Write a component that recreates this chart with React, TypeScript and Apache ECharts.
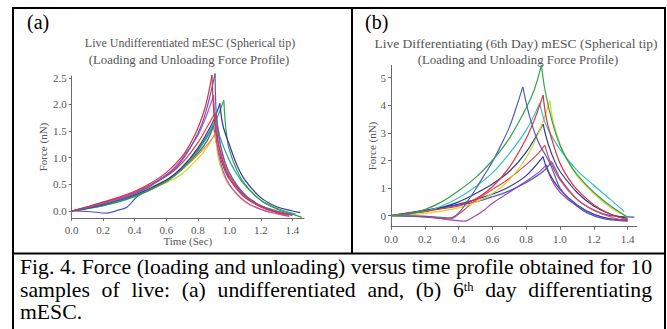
import React, { useEffect, useRef } from "react";
import * as echarts from "echarts";

type Pt = [number, number];

// ---------- Panel (a): undifferentiated mESC ----------
const aRed1Load: Pt[] = [[0,0],[0.1,0.08],[0.2,0.17],[0.3,0.26],[0.4,0.37],[0.5,0.52],[0.6,0.72],[0.7,1.02],[0.75,1.25],[0.8,1.55],[0.85,1.98],[0.89,2.55]];
const aRed1Unload: Pt[] = [[0.89,2.55],[0.91,1.6],[0.95,1.0],[1.0,0.62],[1.05,0.4],[1.1,0.25],[1.2,0.08],[1.3,-0.02],[1.4,-0.08]];
const aBlue1Load: Pt[] = [[0,0],[0.2,0.13],[0.4,0.32],[0.6,0.66],[0.7,0.95],[0.8,1.45],[0.85,1.85],[0.91,2.58]];
const aBlue1Unload: Pt[] = [[0.91,2.58],[0.92,1.7],[0.95,1.15],[1.0,0.72],[1.1,0.3],[1.2,0.1],[1.3,0.0],[1.4,-0.07]];
const aMagentaLoad: Pt[] = [[0,0],[0.2,0.15],[0.4,0.34],[0.6,0.68],[0.7,0.98],[0.8,1.42],[0.85,1.75],[0.9,2.17]];
const aMagentaUnload: Pt[] = [[0.9,2.17],[0.92,1.3],[0.95,0.85],[1.0,0.5],[1.1,0.18],[1.2,0.03],[1.3,-0.05],[1.38,-0.1]];
const aGreenLoad: Pt[] = [[0,0],[0.2,0.1],[0.4,0.27],[0.6,0.55],[0.7,0.78],[0.8,1.12],[0.9,1.6],[0.965,2.08]];
const aGreenUnload: Pt[] = [[0.965,2.08],[0.98,1.5],[1.0,1.15],[1.05,0.75],[1.1,0.5],[1.2,0.2],[1.3,0.04],[1.4,-0.06],[1.46,-0.12]];
const aNavyLoad: Pt[] = [[0,0],[0.2,0.12],[0.4,0.3],[0.6,0.58],[0.7,0.82],[0.8,1.18],[0.9,1.7],[0.94,2.02]];
const aNavyUnload: Pt[] = [[0.94,2.02],[0.96,1.6],[1.0,1.25],[1.05,0.85],[1.1,0.58],[1.2,0.25],[1.3,0.08],[1.4,0.0],[1.45,-0.03]];
const aRed2Load: Pt[] = [[0,0],[0.2,0.16],[0.4,0.35],[0.6,0.65],[0.7,0.9],[0.8,1.28],[0.86,1.58],[0.91,1.85]];
const aRed2Unload: Pt[] = [[0.91,1.85],[0.93,1.3],[0.96,0.95],[1.0,0.65],[1.1,0.28],[1.2,0.08],[1.3,-0.03],[1.38,-0.08]];
const aTealLoad: Pt[] = [[0,0],[0.2,0.1],[0.4,0.28],[0.6,0.56],[0.7,0.8],[0.8,1.15],[0.86,1.42],[0.92,1.75]];
const aTealUnload: Pt[] = [[0.92,1.75],[0.94,1.4],[1.0,0.95],[1.05,0.68],[1.1,0.48],[1.2,0.2],[1.3,0.05],[1.42,-0.06]];
const aBlue2Load: Pt[] = [[0,0],[0.1,-0.01],[0.22,-0.04],[0.3,0.02],[0.35,0.07],[0.42,0.28],[0.5,0.4],[0.6,0.56],[0.7,0.78],[0.8,1.08],[0.86,1.32],[0.9,1.6]];
const aBlue2Unload: Pt[] = [[0.9,1.6],[0.92,1.25],[0.96,0.85],[1.0,0.6],[1.1,0.27],[1.2,0.08],[1.3,-0.02],[1.4,-0.08]];
const aYellowLoad: Pt[] = [[0,0],[0.2,0.12],[0.4,0.3],[0.6,0.53],[0.7,0.7],[0.8,0.98],[0.86,1.2],[0.91,1.47]];
const aYellowUnload: Pt[] = [[0.91,1.47],[0.93,1.0],[0.96,0.7],[1.0,0.48],[1.1,0.17],[1.2,0.03],[1.3,-0.05],[1.38,-0.09]];
const aOrangeLoad: Pt[] = [[0,0],[0.2,0.15],[0.4,0.33],[0.6,0.58],[0.7,0.78],[0.8,1.05],[0.87,1.28],[0.93,1.52]];
const aOrangeUnload: Pt[] = [[0.93,1.52],[0.95,1.15],[1.0,0.7],[1.1,0.3],[1.2,0.1],[1.3,0.0],[1.4,-0.07]];

// ---------- Panel (b): 6th day differentiating mESC ----------
const bGreenLoad: Pt[] = [[0,0],[0.1,0.05],[0.2,0.22],[0.3,0.5],[0.4,0.9],[0.5,1.38],[0.6,2.0],[0.7,2.8],[0.8,3.9],[0.85,4.6],[0.89,5.46]];
const bGreenUnload: Pt[] = [[0.89,5.46],[0.91,4.6],[0.95,3.5],[1.0,2.55],[1.05,1.95],[1.1,1.5],[1.2,0.85],[1.3,0.35],[1.4,-0.05]];
const bSlateLoad: Pt[] = [[0,0],[0.2,-0.03],[0.35,-0.08],[0.4,0.1],[0.45,0.5],[0.5,0.95],[0.55,1.45],[0.6,1.95],[0.65,2.55],[0.7,3.2],[0.74,3.9],[0.78,4.67]];
const bSlateUnload: Pt[] = [[0.78,4.67],[0.82,3.6],[0.87,2.7],[0.94,1.9],[1.0,1.0],[1.04,0.7],[1.1,0.35],[1.16,0.1],[1.25,-0.1],[1.35,-0.18],[1.4,-0.2]];
const bRedLoad: Pt[] = [[0,0],[0.2,0.15],[0.3,0.25],[0.4,0.35],[0.5,0.6],[0.6,1.05],[0.7,1.75],[0.8,2.8],[0.85,3.5],[0.9,4.37]];
const bRedUnload: Pt[] = [[0.9,4.37],[0.92,3.5],[0.96,2.6],[1.0,1.9],[1.05,1.35],[1.1,0.95],[1.2,0.4],[1.3,0.05],[1.4,-0.15]];
const bYellowLoad: Pt[] = [[0,0],[0.2,0.08],[0.4,0.28],[0.5,0.48],[0.6,0.8],[0.7,1.3],[0.8,2.1],[0.88,3.1],[0.94,4.17]];
const bYellowUnload: Pt[] = [[0.94,4.17],[0.96,3.4],[1.0,2.6],[1.05,1.95],[1.1,1.45],[1.2,0.8],[1.3,0.3],[1.4,-0.05]];
const bCyanLoad: Pt[] = [[0,0],[0.2,0.15],[0.3,0.35],[0.4,0.65],[0.5,1.05],[0.6,1.55],[0.7,2.25],[0.8,3.1],[0.88,4.07]];
const bCyanUnload: Pt[] = [[0.88,4.07],[0.91,3.4],[0.95,2.9],[1.0,2.4],[1.1,1.65],[1.2,1.1],[1.3,0.58],[1.38,0.15]];
const bNavyLoad: Pt[] = [[0,0],[0.2,0.15],[0.3,0.3],[0.4,0.5],[0.5,0.8],[0.6,1.15],[0.7,1.6],[0.8,2.3],[0.9,3.32]];
const bNavyUnload: Pt[] = [[0.9,3.32],[0.93,2.6],[0.97,1.95],[1.0,1.6],[1.1,0.85],[1.2,0.35],[1.3,0.05],[1.4,-0.1]];
const bRed2Load: Pt[] = [[0,0],[0.2,-0.02],[0.35,-0.12],[0.4,0.05],[0.45,0.3],[0.5,0.55],[0.6,0.95],[0.7,1.35],[0.8,1.85],[0.87,2.25],[0.91,2.56]];
const bRed2Unload: Pt[] = [[0.91,2.56],[0.94,2.0],[1.0,1.3],[1.1,0.6],[1.2,0.2],[1.3,-0.05],[1.4,-0.2]];
const bNavy2Load: Pt[] = [[0,0],[0.2,0.2],[0.3,0.3],[0.4,0.42],[0.5,0.58],[0.6,0.78],[0.7,1.05],[0.8,1.45],[0.9,2.14]];
const bNavy2Unload: Pt[] = [[0.9,2.14],[0.93,1.6],[1.0,0.95],[1.1,0.4],[1.2,0.05],[1.3,-0.12],[1.4,-0.15]];
const bPurpleLoad: Pt[] = [[0,0],[0.2,-0.05],[0.35,-0.15],[0.43,-0.2],[0.5,0.0],[0.55,0.2],[0.6,0.45],[0.7,0.85],[0.8,1.25],[0.87,1.55],[0.92,1.84]];
const bPurpleUnload: Pt[] = [[0.92,1.84],[0.95,1.3],[1.0,0.85],[1.1,0.35],[1.2,0.05],[1.3,-0.12],[1.4,-0.18]];
const bBlue3Load: Pt[] = [[0,0],[0.2,0.18],[0.4,0.38],[0.5,0.5],[0.6,0.68],[0.7,0.9],[0.8,1.2],[0.9,1.6],[0.95,1.96]];
const bBlue3Unload: Pt[] = [[0.95,1.96],[0.98,1.6],[1.0,1.35],[1.1,0.6],[1.2,0.2],[1.3,0.0],[1.44,-0.05]];

// ---------- Tick labels ----------
const aYTicks = [0, 0.5, 1.0, 1.5, 2.0, 2.5];
const bYTicks = [0, 1, 2, 3, 4, 5];
const xTicks = [0, 0.2, 0.4, 0.6, 0.8, 1.0, 1.2, 1.4];

const titleA = ["Live Undifferentiated mESC (Spherical tip)", "(Loading and Unloading Force Profile)"];
const titleB = ["Live Differentiating (6th Day) mESC (Spherical tip)", "(Loading and Unloading Force Profile)"];
const captionLine1 = "Fig. 4. Force (loading and unloading) versus time profile obtained for 10";
const captionLine2a = "samples of live: (a) undifferentiated and, (b) 6";
const captionLine2sup = "th";
const captionLine2b = " day differentiating";
const captionLine3 = "mESC.";

const curvesA: { color: string; load: Pt[]; unload: Pt[] }[] = [
  { color: "#4a5ab8", load: aBlue2Load, unload: aBlue2Unload },
  { color: "#d8d428", load: aYellowLoad, unload: aYellowUnload },
  { color: "#f08a28", load: aOrangeLoad, unload: aOrangeUnload },
  { color: "#28a0a4", load: aTealLoad, unload: aTealUnload },
  { color: "#34a044", load: aGreenLoad, unload: aGreenUnload },
  { color: "#2c3a90", load: aNavyLoad, unload: aNavyUnload },
  { color: "#e43c4c", load: aRed2Load, unload: aRed2Unload },
  { color: "#c048c0", load: aMagentaLoad, unload: aMagentaUnload },
  { color: "#5060c4", load: aBlue1Load, unload: aBlue1Unload },
  { color: "#e03038", load: aRed1Load, unload: aRed1Unload },
];
const curvesB: { color: string; load: Pt[]; unload: Pt[] }[] = [
  { color: "#a044b4", load: bPurpleLoad, unload: bPurpleUnload },
  { color: "#303c98", load: bNavy2Load, unload: bNavy2Unload },
  { color: "#4858c0", load: bBlue3Load, unload: bBlue3Unload },
  { color: "#e84454", load: bRed2Load, unload: bRed2Unload },
  { color: "#2c3a8c", load: bNavyLoad, unload: bNavyUnload },
  { color: "#d8d428", load: bYellowLoad, unload: bYellowUnload },
  { color: "#38c0c4", load: bCyanLoad, unload: bCyanUnload },
  { color: "#e03038", load: bRedLoad, unload: bRedUnload },
  { color: "#5060b8", load: bSlateLoad, unload: bSlateUnload },
  { color: "#34a050", load: bGreenLoad, unload: bGreenUnload },
];

const SERIF = "Liberation Serif";
const AXIS_GRAY = "#6a6a6a";
const LABEL_GRAY = "#555555";

function axisX(gridIndex: number, max: number, name: string) {
  return {
    type: "value",
    gridIndex,
    min: 0,
    max,
    name,
    nameLocation: "middle",
    nameGap: 18,
    nameMoveOverlap: false,
    nameTextStyle: { fontFamily: SERIF, fontSize: 11, color: LABEL_GRAY },
    axisLine: { show: true, onZero: false, lineStyle: { color: AXIS_GRAY, width: 1 } },
    axisTick: { show: true, length: 3, customValues: xTicks, lineStyle: { color: AXIS_GRAY } },
    axisLabel: {
      customValues: xTicks,
      margin: 7,
      fontFamily: SERIF,
      fontSize: 11,
      color: LABEL_GRAY,
      formatter: (v: number) => v.toFixed(1),
    },
    splitLine: { show: false },
  };
}

function axisY(gridIndex: number, min: number, max: number, ticks: number[], digits: number, nameGap: number) {
  return {
    type: "value",
    gridIndex,
    min,
    max,
    name: "Force (nN)",
    nameLocation: "middle",
    nameGap,
    nameMoveOverlap: false,
    nameTextStyle: { fontFamily: SERIF, fontSize: 11, color: LABEL_GRAY },
    axisLine: { show: true, onZero: false, lineStyle: { color: AXIS_GRAY, width: 1 } },
    axisTick: { show: true, length: 3, customValues: ticks, lineStyle: { color: AXIS_GRAY } },
    axisLabel: {
      customValues: ticks,
      margin: 5,
      fontFamily: SERIF,
      fontSize: 11,
      color: LABEL_GRAY,
      formatter: (v: number) => v.toFixed(digits),
    },
    splitLine: { show: false },
  };
}

function buildSeries(curves: { color: string; load: Pt[]; unload: Pt[] }[], idx: number) {
  const out: any[] = [];
  curves.forEach((c) => {
    [c.load, c.unload].forEach((d) => {
      out.push({
        type: "line",
        xAxisIndex: idx,
        yAxisIndex: idx,
        data: d,
        showSymbol: false,
        symbol: "none",
        smooth: 0.35,
        clip: false,
        lineStyle: { color: c.color, width: 1.2 },
        emphasis: { disabled: true },
      });
    });
  });
  return out;
}

const captionLineStyle: React.CSSProperties = {
  height: 22.5,
  whiteSpace: "nowrap",
  textAlign: "justify",
  textAlignLast: "justify",
};

export default function App() {
  const ref = useRef<HTMLDivElement>(null);

  useEffect(() => {
    document.body.style.margin = "0";
    if (!ref.current) return;
    const chart = echarts.init(ref.current, undefined, { renderer: "svg", width: 667, height: 329 });
    const line = (x1: number, y1: number, x2: number, y2: number) => ({
      type: "line",
      shape: { x1, y1, x2, y2 },
      style: { stroke: "#000", lineWidth: 2 },
      silent: true,
    });
    const txt = (x: number, y: number, text: string, size: number, color: string, align = "center") => ({
      type: "text",
      x,
      y,
      style: { text, fontFamily: SERIF, fontSize: size, fill: color, align, verticalAlign: "middle" },
      silent: true,
    });
    chart.setOption({
      animation: false,
      backgroundColor: "#ffffff",
      grid: [
        { left: 71.7, top: 76.2, width: 232.3, height: 141.7, containLabel: false, outerBoundsMode: "none" },
        { left: 391, top: 65.3, width: 245.7, height: 161.4, containLabel: false, outerBoundsMode: "none" },
      ],
      xAxis: [axisX(0, 1.474, "Time (Sec)"), axisX(1, 1.454, "")],
      yAxis: [axisY(0, -0.13, 2.53, aYTicks, 1, 23), axisY(1, -0.4, 5.45, bYTicks, 0, 14)],
      series: [...buildSeries(curvesA, 0), ...buildSeries(curvesB, 1)],
      graphic: [
        line(13, 8, 666, 8),
        line(13, 7, 13, 329),
        line(665, 7, 665, 329),
        line(352, 8, 352, 254),
        line(12, 253.5, 666, 253.5),
        txt(27, 22, "(a)", 20, "#000", "left"),
        txt(365, 22, "(b)", 20, "#000", "left"),
        txt(190, 43, titleA[0], 12, LABEL_GRAY),
        txt(189, 60, titleA[1], 12.8, LABEL_GRAY),
        txt(516, 43, titleB[0], 13.5, LABEL_GRAY),
        txt(518, 60, titleB[1], 12.8, LABEL_GRAY),
      ],
    });
    return () => chart.dispose();
  }, []);

  return (
    <div style={{ position: "fixed", left: 0, top: 0, width: 667, height: 329, background: "#fff", overflow: "hidden" }}>
      <div ref={ref} style={{ position: "absolute", left: 0, top: 0, width: 667, height: 329 }} />
      <div
        style={{
          position: "absolute",
          left: 20,
          top: 256.4,
          width: 632,
          fontFamily: "'Liberation Serif', serif",
          fontSize: 21.7,
          lineHeight: "22.5px",
          color: "#000",
        }}
      >
        <div style={captionLineStyle}>{captionLine1}</div>
        <div style={captionLineStyle}>
          {captionLine2a}
          <span style={{ fontSize: "0.58em", position: "relative", top: "-0.5em", lineHeight: 0 }}>{captionLine2sup}</span>
          {captionLine2b}
        </div>
        <div style={{ height: 22.5, whiteSpace: "nowrap", textAlign: "left" }}>{captionLine3}</div>
      </div>
    </div>
  );
}
